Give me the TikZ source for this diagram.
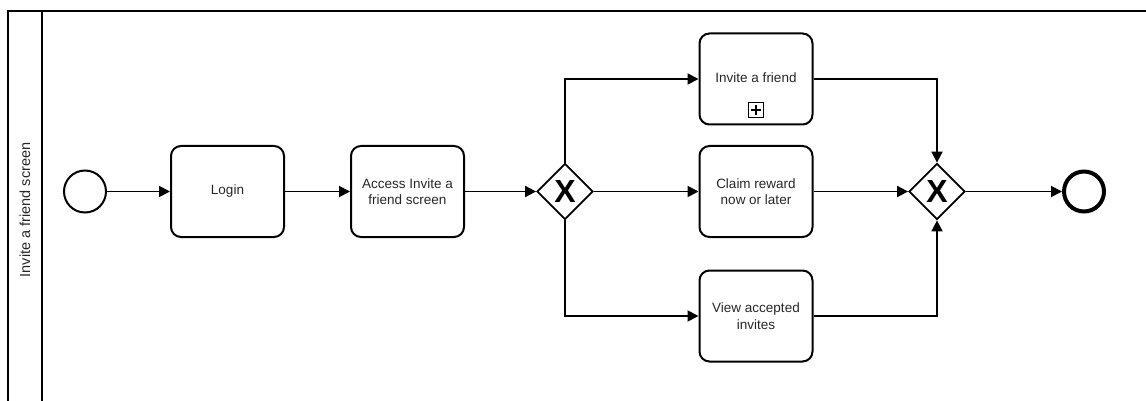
\documentclass[tikz,border=0pt]{standalone}
\usepackage{fontspec}
\setmainfont{Liberation Sans}
\usetikzlibrary{shapes.geometric,arrows.meta,calc}
\begin{document}
\begin{tikzpicture}[x=1pt,y=-1pt,
  task/.style={draw,line width=2pt,rounded corners=10pt,minimum width=113pt,minimum height=91pt,align=center,font=\fontsize{13.5}{16.5}\selectfont,text=black!85},
  gw/.style={draw,diamond,line width=1.8pt,minimum width=56pt,minimum height=56pt,inner sep=0pt,font=\fontsize{32}{32}\bfseries\selectfont},
  flow/.style={line width=1.8pt,-{Triangle[length=11pt,width=11pt]}},
  pool/.style={line width=2pt,line cap=rect}]
\useasboundingbox (0,0) rectangle (1146,401);
% pool
\coordinate (ptl) at (8,11);
\coordinate (ptr) at (1146,11);
\coordinate (pbl) at (8,402);
\coordinate (dtop) at (42,11);
\coordinate (dbot) at (42,402);
\draw[pool] (pbl) -- (ptl) -- (ptr);
\draw[pool] (dtop) -- (dbot);
\node[rotate=90,font=\fontsize{14.5}{17}\selectfont,text=black!85] (lanelabel) at (25,210) {Invite a friend screen};
% events
\node[draw,circle,line width=2pt,minimum size=42pt,inner sep=0pt] (start) at (85,191.5) {};
\node[draw,circle,line width=4pt,minimum size=40pt,inner sep=0pt] (end) at (1084,191.5) {};
% tasks
\node[task] (login) at (227.5,191.5) {Login};
\node[task] (access) at (407.5,191.5) {Access Invite a\\friend screen};
\node[task] (invite) at (756,79) {\raisebox{2pt}{Invite a friend}};
\node[task] (claim) at (756,191.5) {Claim reward\\now or later};
\node[task] (view) at (756,316) {View accepted\\invites};
% subprocess marker
\node[draw,line width=1.3pt,minimum size=15pt,inner sep=0pt] (marker) at (756,110) {};
\draw[line width=1.5pt] ($(marker.north)+(0,3.5)$) -- ($(marker.south)+(0,-3.5)$);
\draw[line width=1.5pt] ($(marker.west)+(3.5,0)$) -- ($(marker.east)+(-3.5,0)$);
% gateways
\node[gw] (gw1) at (565,191.5) {X};
\node[gw] (gw2) at (937,191.5) {X};
% flows
\draw[flow] (start) -- (login);
\draw[flow] (login) -- (access);
\draw[flow] (access) -- (gw1.west);
\draw[flow] (gw1.north) |- (invite.west);
\draw[flow] (gw1.east) -- (claim.west);
\draw[flow] (gw1.south) |- (view.west);
\draw[flow] (invite.east) -| (gw2.north);
\draw[flow] (claim.east) -- (gw2.west);
\draw[flow] (view.east) -| (gw2.south);
\draw[flow] (gw2.east) -- (end.west);
\end{tikzpicture}
\end{document}
